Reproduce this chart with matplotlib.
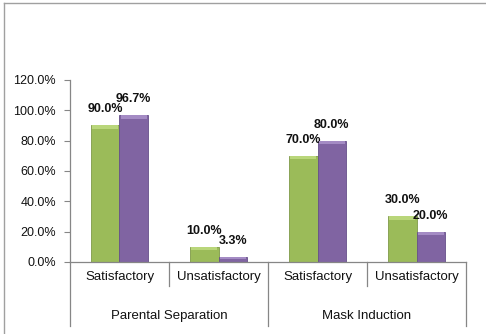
import numpy as np
import matplotlib
matplotlib.use('Agg')
import matplotlib.pyplot as plt
from matplotlib.lines import Line2D
import matplotlib.transforms as mtransforms

plt.rcParams['font.family'] = ['Liberation Sans', 'DejaVu Sans']

# data
categories = ['Satisfactory', 'Unsatisfactory', 'Satisfactory', 'Unsatisfactory']
groups = ['Parental Separation', 'Mask Induction']
series_a = [90.0, 10.0, 70.0, 30.0]
series_b = [96.7, 3.3, 80.0, 20.0]
yticks = [0, 20, 40, 60, 80, 100, 120]

green, green_hi, green_edge = '#9BBB59', '#B9D67A', '#7F9A48'
purple, purple_hi, purple_edge = '#8064A2', '#A48BC4', '#66508A'
axis_grey = '#868686'
txt = '#111111'

fig = plt.figure(figsize=(4.86, 3.34), dpi=100)
ax = fig.add_axes([0.144, 0.216, 0.815, 0.545])

x = np.arange(len(categories))
w = 0.288
band = 2.2  # light bevel strip on top of each bar

for xs, vals, c, hi, ec in [(x - w / 2, series_a, green, green_hi, green_edge),
                            (x + w / 2, series_b, purple, purple_hi, purple_edge)]:
    vals = np.array(vals)
    ax.bar(xs, vals, width=w, color=c, edgecolor=ec, linewidth=0.6, zorder=2)
    bh = np.minimum(band, vals * 0.5)
    ax.bar(xs, bh, bottom=vals - bh, width=w * 0.92, color=hi, linewidth=0, zorder=3)
    for xi, v in zip(xs, vals):
        ax.annotate('%.1f%%' % v, (xi, v), xytext=(0, 11.5), textcoords='offset points',
                    ha='center', va='center', fontsize=9, fontweight='bold', color=txt)

ax.set_xlim(-0.5, 3.5)
ax.set_ylim(0, 120)
ax.set_yticks(yticks)
ax.set_yticklabels(['%.1f%%' % t for t in yticks], fontsize=9, color=txt)
ax.tick_params(axis='y', length=4, width=0.8, color=axis_grey, pad=6)
ax.set_xticks([])

for s in ['top', 'right']:
    ax.spines[s].set_visible(False)
for s in ['left', 'bottom']:
    ax.spines[s].set_color(axis_grey)
    ax.spines[s].set_linewidth(0.9)

# category and group labels under the axis
trans = mtransforms.blended_transform_factory(ax.transData, ax.transAxes)
px = 1.0 / (ax.get_position().height * 334)
for xi, lab in zip(x, categories):
    ax.text(xi, -15 * px, lab, transform=trans, ha='center', va='center',
            fontsize=9.5, color=txt)
for gi, g in enumerate(groups):
    ax.text(2 * gi + 0.5, -54 * px, g, transform=trans, ha='center', va='center',
            fontsize=9.5, color=txt)

# separators between categories and between groups
for b in np.arange(-0.5, 4.0, 1.0):
    outer = (b + 0.5) % 2 == 0
    depth = 64 if outer else 24
    ax.add_line(Line2D([b, b], [0, -depth * px], transform=trans, color=axis_grey,
                       linewidth=0.9, clip_on=False))

# chart area border
fig.add_artist(Line2D([4 / 486, 4 / 486], [0, 1 - 3 / 334], transform=fig.transFigure,
                      color='#A0A0A0', linewidth=1.0))
fig.add_artist(Line2D([4 / 486, 1], [1 - 3 / 334, 1 - 3 / 334], transform=fig.transFigure,
                      color='#A0A0A0', linewidth=1.0))

fig.savefig('out.png', dpi=100)
